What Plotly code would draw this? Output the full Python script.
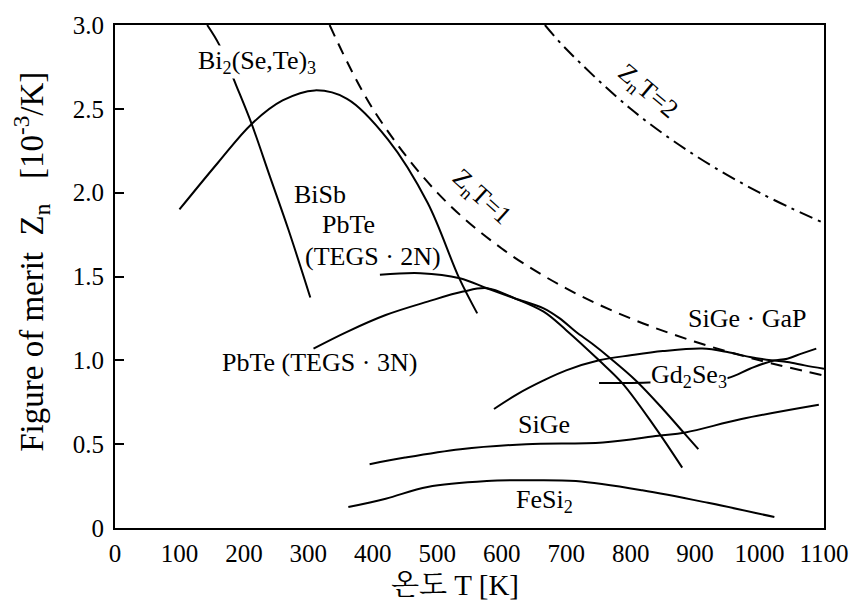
import plotly.graph_objects as go

# Temperature T [K] and figure of merit Zn [10^-3/K] for each material
bise_T = [143, 162, 188, 212, 240, 269, 303]
bise_Z = [3.0, 2.88, 2.64, 2.41, 2.10, 1.78, 1.375]

bisb_T = [100, 160, 212, 260, 310, 360, 423, 485, 534, 562]
bisb_Z = [1.90, 2.18, 2.41, 2.55, 2.61, 2.56, 2.32, 1.94, 1.49, 1.28]

pbte2n_T = [411, 474, 535, 577, 620, 665, 690, 715, 740, 766, 808, 850, 882, 905]
pbte2n_Z = [1.51, 1.52, 1.49, 1.43, 1.37, 1.31, 1.25, 1.17, 1.10, 1.02, 0.88, 0.71, 0.57, 0.47]

pbte3n_T = [308, 360, 420, 485, 540, 577, 620, 665, 700, 751, 788, 838, 880]
pbte3n_Z = [1.07, 1.17, 1.27, 1.35, 1.41, 1.43, 1.37, 1.29, 1.18, 1.00, 0.86, 0.60, 0.36]

sigegap_T = [588, 625, 665, 700, 751, 800, 850, 911, 950, 985, 1018, 1043, 1070, 1100]
sigegap_Z = [0.71, 0.80, 0.88, 0.94, 1.00, 1.03, 1.055, 1.07, 1.05, 1.02, 1.00, 0.99, 0.97, 0.95]

gd2se3_T = [751, 790, 828, 890, 951, 985, 1018, 1043, 1065, 1088]
gd2se3_Z = [0.865, 0.865, 0.868, 0.88, 0.895, 0.95, 0.995, 1.01, 1.04, 1.07]

sige_T = [395, 450, 536, 638, 757, 843, 885, 972, 1092]
sige_Z = [0.38, 0.42, 0.47, 0.50, 0.51, 0.55, 0.57, 0.65, 0.735]

fesi2_T = [362, 420, 485, 577, 638, 715, 818, 920, 1023]
fesi2_Z = [0.125, 0.175, 0.245, 0.28, 0.285, 0.28, 0.225, 0.15, 0.065]

# Iso-ZnT reference lines
zt1_T = [333, 400, 500, 600, 700, 800, 900, 1000, 1100]
zt1_Z = [3.0, 2.5, 2.0, 1.667, 1.429, 1.25, 1.111, 1.0, 0.909]

zt2_T = [667, 700, 800, 900, 1000, 1100]
zt2_Z = [3.0, 2.857, 2.5, 2.222, 2.0, 1.818]

x_ticks = [0, 100, 200, 300, 400, 500, 600, 700, 800, 900, 1000, 1100]
y_ticks = [0, 0.5, 1.0, 1.5, 2.0, 2.5, 3.0]
y_ticktext = ["0", "0.5", "1.0", "1.5", "2.0", "2.5", "3.0"]

SERIF = "Liberation Serif, Times New Roman, serif"
KR = "Liberation Serif, Noto Serif CJK KR, Noto Sans CJK KR, serif"

fig = go.Figure()

solid = dict(color="black", width=2, shape="spline")
for T, Z in [(bise_T, bise_Z), (bisb_T, bisb_Z), (pbte2n_T, pbte2n_Z),
             (pbte3n_T, pbte3n_Z), (sigegap_T, sigegap_Z), (gd2se3_T, gd2se3_Z),
             (sige_T, sige_Z), (fesi2_T, fesi2_Z)]:
    fig.add_trace(go.Scatter(x=T, y=Z, mode="lines", line=solid,
                             hoverinfo="skip", showlegend=False))

fig.add_trace(go.Scatter(x=zt1_T, y=zt1_Z, mode="lines",
                         line=dict(color="black", width=2, dash="12px,8px", shape="spline"),
                         hoverinfo="skip", showlegend=False))
fig.add_trace(go.Scatter(x=zt2_T, y=zt2_Z, mode="lines",
                         line=dict(color="black", width=2, dash="14px,6px,3px,6px", shape="spline"),
                         hoverinfo="skip", showlegend=False))

labels = [
    ("Bi<sub>2</sub>(Se,Te)<sub>3</sub>", 220, 2.78, 0, True),
    ("BiSb", 318, 1.99, 0, False),
    ("PbTe", 362, 1.81, 0, False),
    ("(TEGS · 2N)", 400, 1.62, 0, False),
    ("PbTe (TEGS · 3N)", 318, 0.985, 0, False),
    ("SiGe · GaP", 980, 1.25, 0, False),
    ("Gd<sub>2</sub>Se<sub>3</sub>", 891, 0.907, 0, True),
    ("SiGe", 666, 0.62, 0, False),
    ("FeSi<sub>2</sub>", 666, 0.16, 0, False),
    ("Z<sub>n</sub>T=1", 569, 1.97, 42, True),
    ("Z<sub>n</sub>T=2", 826, 2.60, 40, True),
]
for text, x, y, ang, bg in labels:
    fig.add_annotation(x=x, y=y, text=text, showarrow=False, textangle=ang,
                       font=dict(family=SERIF, size=26, color="black"),
                       bgcolor="white" if bg else None, borderpad=0,
                       xanchor="center", yanchor="middle")

# Axis titles
fig.add_annotation(xref="paper", yref="paper", x=-0.118, y=0.53,
                   text="Figure of merit  Z<sub>n</sub>   [10<sup>-3</sup>/K]",
                   textangle=-90, showarrow=False,
                   font=dict(family=SERIF, size=33, color="black"),
                   xanchor="center", yanchor="middle")
fig.add_annotation(xref="paper", yref="paper", x=0.48, y=-0.113,
                   text="온도 T [K]", showarrow=False,
                   font=dict(family=KR, size=29, color="black"),
                   xanchor="center", yanchor="middle")

fig.update_xaxes(range=[0, 1100], tickvals=x_ticks, ticks="", showgrid=False,
                 zeroline=False, showline=True, linecolor="black", linewidth=2,
                 mirror=True, tickfont=dict(family=SERIF, size=25, color="black"),
                 ticklabelstandoff=2)
fig.update_yaxes(range=[0, 3.0], tickvals=y_ticks, ticktext=y_ticktext,
                 ticks="inside", ticklen=9, tickwidth=2, tickcolor="black",
                 showgrid=False, zeroline=False, showline=True, linecolor="black",
                 linewidth=2, mirror=True,
                 tickfont=dict(family=SERIF, size=25, color="black"),
                 ticklabelstandoff=4)

fig.update_layout(width=861, height=603, paper_bgcolor="white", plot_bgcolor="white",
                  margin=dict(l=115, r=31, t=22, b=75), showlegend=False)

fig.write_html("out.html")
